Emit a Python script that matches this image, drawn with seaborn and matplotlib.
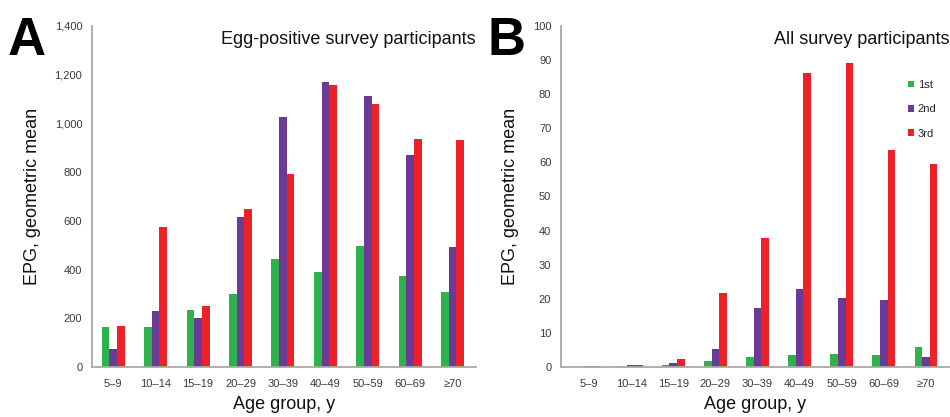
import matplotlib
matplotlib.use("Agg")
import matplotlib.pyplot as plt
from matplotlib.ticker import FuncFormatter
from matplotlib.patches import Patch
import seaborn as sns
import pandas as pd
import numpy as np

ages = ["5\u20139", "10\u201314", "15\u201319", "20\u201329", "30\u201339",
        "40\u201349", "50\u201359", "60\u201369", "\u226570"]
surveys = ["1st", "2nd", "3rd"]

# panel A: egg-positive participants
a_1st = [165, 165, 232, 298, 445, 390, 495, 375, 308]
a_2nd = [75, 228, 200, 615, 1028, 1170, 1113, 872, 492]
a_3rd = [168, 575, 250, 648, 792, 1158, 1078, 935, 932]

# panel B: all participants
b_1st = [0.1, 0.2, 0.5, 1.8, 2.8, 3.6, 3.9, 3.6, 6.0]
b_2nd = [0.3, 0.5, 1.2, 5.2, 17.4, 22.8, 20.3, 19.6, 2.9]
b_3rd = [0.4, 0.6, 2.3, 21.8, 37.8, 86.2, 89.2, 63.7, 59.5]

colors = ["#2EB24C", "#6B3A96", "#EE2128"]


def long_df(s1, s2, s3):
    rows = []
    for name, vals in zip(surveys, [s1, s2, s3]):
        for age, v in zip(ages, vals):
            rows.append({"age": age, "survey": name, "epg": v})
    return pd.DataFrame(rows)


sns.set_style("white")
plt.rcParams['font.family'] = ['Liberation Sans', 'DejaVu Sans']

fig = plt.figure(figsize=(9.5, 4.17), dpi=100)
axA = fig.add_axes([92 / 950, 0.12, 384 / 950, 0.8177])
axB = fig.add_axes([561 / 950, 0.12, 389 / 950, 0.8177])

spine_col = "#a8a8a8"
txt_col = "#3a3a3a"

panels = [
    (axA, long_df(a_1st, a_2nd, a_3rd), (0, 1400), np.arange(0, 1401, 200),
     "Egg-positive survey participants", "A", (-0.5, 8.55), -0.22),
    (axB, long_df(b_1st, b_2nd, b_3rd), (0, 100), np.arange(0, 101, 10),
     "All survey participants", "B", (-0.665, 8.57), -0.19),
]

for ax, df, ylim, yticks, title, letter, xlim, lx in panels:
    sns.barplot(data=df, x="age", y="epg", hue="survey", palette=colors,
                width=0.54, saturation=1, linewidth=0, ax=ax, legend=False)
    ax.set_ylim(*ylim)
    ax.set_yticks(yticks)
    ax.set_xlim(*xlim)
    ax.yaxis.set_major_formatter(FuncFormatter(lambda v, p: "{:,.0f}".format(v)))
    for s in ["top", "right"]:
        ax.spines[s].set_visible(False)
    for s in ["left", "bottom"]:
        ax.spines[s].set_color(spine_col)
        ax.spines[s].set_linewidth(1.3)
    ax.tick_params(axis="both", length=4, width=1, color=spine_col,
                   labelsize=8, labelcolor=txt_col, pad=3)
    ax.tick_params(axis="x", pad=5)
    ax.set_xlabel("Age group, y", fontsize=13, color="#111111", labelpad=5)
    ax.set_ylabel("EPG, geometric mean", fontsize=13, color="#111111", labelpad=10)
    ax.text(1.0, 0.985, title, transform=ax.transAxes, ha="right", va="top",
            fontsize=13, color="#111111")
    ax.text(lx, 1.03, letter, transform=ax.transAxes, ha="left", va="top",
            fontsize=38, fontweight="heavy", color="black")

handles = [Patch(facecolor=c, edgecolor="none") for c in colors]
axB.legend(handles, surveys, loc="upper left", bbox_to_anchor=(0.88, 0.855),
           frameon=False, fontsize=8, handlelength=0.55, handleheight=0.55,
           handletextpad=0.35, labelspacing=1.3, borderaxespad=0)

fig.savefig("out.png", dpi=100)
